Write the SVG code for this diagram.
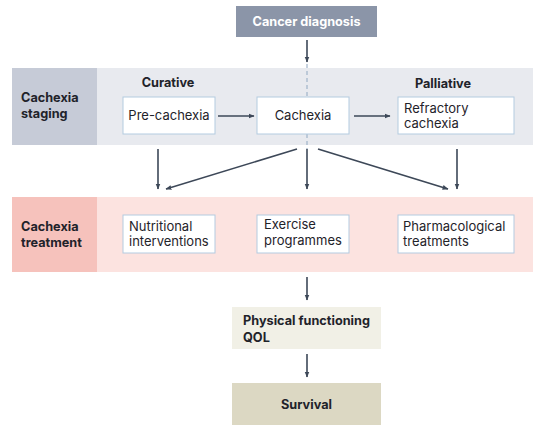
<svg xmlns="http://www.w3.org/2000/svg" width="554" height="432" viewBox="0 0 554 432">
<defs>
<style>
text{font-family:Inter,"Noto Sans","Liberation Sans",sans-serif;font-size:13px;fill:#1f232a}
.b{font-weight:700;font-size:12.7px}
.w{fill:#ffffff}
.box{fill:#ffffff;stroke:#b3cbe0;stroke-width:1}
.ar{stroke:#3d4858;stroke-width:1.6;fill:none;marker-end:url(#ah)}
.dash{stroke:#9fb3c8;stroke-width:1.2;stroke-dasharray:4 3;fill:none}
</style>
<marker id="ah" viewBox="0 0 10 10" refX="9" refY="5" markerWidth="6" markerHeight="6" orient="auto" markerUnits="userSpaceOnUse">
<path d="M0,1 L10,5 L0,9 Z" fill="#3d4858"/>
</marker>
</defs>
<rect width="554" height="432" fill="#ffffff"/>

<g id="bands">
<rect x="12" y="68" width="521" height="77" fill="#e8eaef"/>
<rect x="12" y="68" width="85" height="77" fill="#c6cbd7"/>
<rect x="12" y="197" width="521" height="75" fill="#fce3e0"/>
<rect x="12" y="197" width="85" height="75" fill="#f6c2bc"/>
</g>

<g id="connectors">
<path class="dash" d="M307,64 V97"/>
<path class="dash" d="M307,134 V149"/>
<path class="ar" d="M307,40 V62"/>
<path class="ar" d="M218,116 H254"/>
<path class="ar" d="M354,116 H390"/>
<path class="ar" d="M158,149 V189"/>
<path class="ar" d="M297,149 L166,189"/>
<path class="ar" d="M307,149 V189"/>
<path class="ar" d="M318,149 L448,189"/>
<path class="ar" d="M457,149 V189"/>
<path class="ar" d="M307,277 V300"/>
<path class="ar" d="M307,354 V377"/>
</g>

<g id="cancer-diagnosis">
<rect x="236" y="6" width="141" height="31" fill="#8b95a8"/>
<text class="b w" x="306.5" y="26" text-anchor="middle">Cancer diagnosis</text>
</g>

<g id="staging-label">
<text class="b" x="21" y="102">Cachexia</text>
<text class="b" x="21" y="118">staging</text>
</g>
<text class="b" x="168" y="87" text-anchor="middle">Curative</text>
<text class="b" x="443" y="88" text-anchor="middle">Palliative</text>

<g id="pre-cachexia">
<rect class="box" x="123" y="97" width="92" height="37"/>
<text x="169" y="120" text-anchor="middle">Pre-cachexia</text>
</g>
<g id="cachexia">
<rect class="box" x="257" y="97" width="92" height="37"/>
<text x="303" y="120" text-anchor="middle">Cachexia</text>
</g>
<g id="refractory-cachexia">
<rect class="box" x="398" y="97" width="116" height="37"/>
<text x="404" y="113">Refractory</text>
<text x="404" y="128">cachexia</text>
</g>

<g id="treatment-label">
<text class="b" x="21" y="231">Cachexia</text>
<text class="b" x="21" y="247">treatment</text>
</g>
<g id="nutritional">
<rect class="box" x="123" y="215" width="92" height="38"/>
<text x="129" y="231">Nutritional</text>
<text x="129" y="246">interventions</text>
</g>
<g id="exercise">
<rect class="box" x="257" y="215" width="92" height="38"/>
<text x="264" y="229">Exercise</text>
<text x="264" y="245">programmes</text>
</g>
<g id="pharmacological">
<rect class="box" x="398" y="215" width="116" height="38"/>
<text x="403" y="231">Pharmacological</text>
<text x="403" y="246">treatments</text>
</g>

<g id="physical-functioning">
<rect x="232" y="307" width="149" height="42" fill="#f1f0e6"/>
<text class="b" x="243" y="325">Physical functioning</text>
<text class="b" x="243" y="342">QOL</text>
</g>
<g id="survival">
<rect x="232" y="383" width="149" height="42" fill="#dcd8c3"/>
<text class="b" x="306.5" y="409" text-anchor="middle">Survival</text>
</g>
</svg>
